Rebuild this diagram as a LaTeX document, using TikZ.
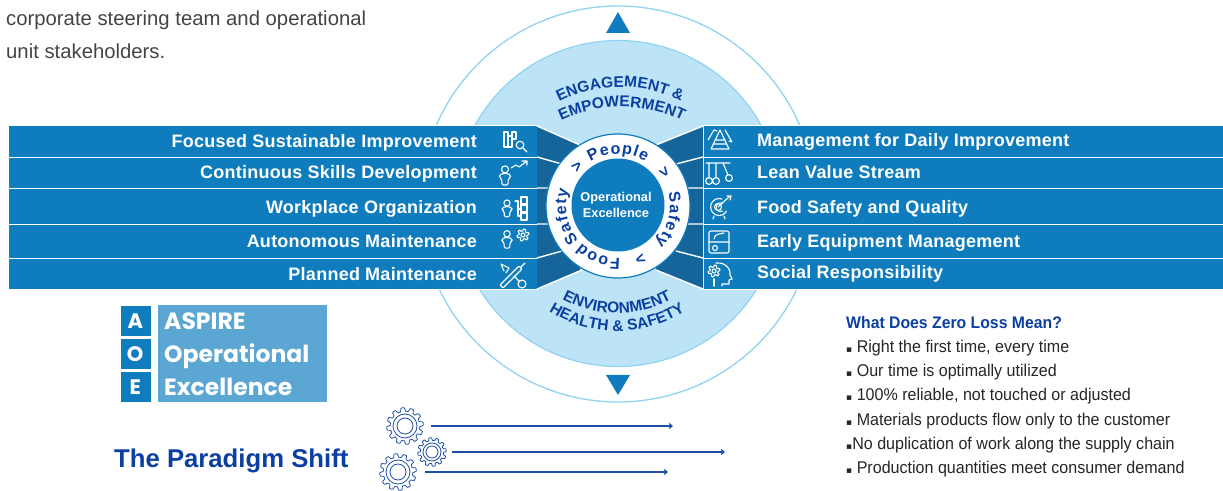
\documentclass[tikz,border=0pt]{standalone}
\usepackage{fontspec}
\usetikzlibrary{decorations.text,arrows.meta}
\setmainfont{Liberation Sans}
\newfontfamily\barfont[LetterSpace=1.4]{Liberation Sans}
\newfontfamily\ringfont{Liberation Sans}
\newfontfamily\capsfont{Liberation Sans}
\newfontfamily\boxfont{Poppins}
\newfontfamily\listfont[FakeStretch=0.945]{Liberation Sans}
\newfontfamily\symbfont{DejaVu Sans}
\definecolor{barblue}{HTML}{0F7DBD}
\definecolor{darkblue}{HTML}{15659A}
\definecolor{skyfill}{HTML}{BDE4F6}
\definecolor{skyline}{HTML}{8FD3F1}
\definecolor{headblue}{HTML}{0B3FA0}
\definecolor{boxblue}{HTML}{5BA6D3}
\definecolor{gearblue}{HTML}{1F4FA5}
\definecolor{greytext}{HTML}{444444}
\newcommand\rk{\hspace{1.1pt}}
\tikzset{
  bar/.style={draw=white,line width=1.4pt,fill=barblue,inner sep=0pt},
  barlabel/.style={text=white,font=\barfont\bfseries\fontsize{18}{20}\selectfont,inner sep=0pt},
  iconline/.style={draw=white,line width=1.1pt,line cap=round,line join=round},
  ringword/.style={decorate,decoration={text along path,text align=center,text color=headblue,
      text={|\ringfont\bfseries\fontsize{16}{16}\selectfont|#1}}},
  capsword/.style={decorate,decoration={text along path,text align=center,text color=headblue,
      text={|\capsfont\bfseries\fontsize{15.5}{16}\selectfont|#1}}},
  letterbox/.style={draw=white,line width=0.5pt,fill=barblue,text=white,minimum size=31pt,inner sep=0pt,font=\boxfont\bfseries\fontsize{21}{21}\selectfont},
  boxline/.style={text=white,inner sep=0pt,anchor=base west,font=\boxfont\bfseries\fontsize{23.5}{24}\selectfont},
  listline/.style={text=black!85,inner sep=0pt,anchor=base west,font=\listfont\fontsize{17}{18}\selectfont},
  shiftarrow/.style={draw=gearblue,line width=1.1pt,-{Straight Barb[length=3pt,width=5pt]}},
  pics/personmark/.style={code={
    \draw[iconline] (0,4.5) circle[radius=2.8];
    \draw[iconline,rounded corners=1.5pt] (-2.5,-8) -- (-2.5,-3) -- (-4.5,-2) -- (-4.5,0) -- (-2,1.2) -- (2,1.2) -- (4.5,0) -- (4.5,-2) -- (2.5,-3) -- (2.5,-8) -- cycle;
  }},
  pics/cogmark/.style={code={
    \draw[iconline] plot[samples=73,domain=0:360,smooth] (\x:{#1*(1+0.2*tanh(3*sin(6*\x)))});
    \draw[iconline] (0,0) circle[radius=#1*0.4];
  }}
}
\newcommand\gearwheel[6]{
  \draw[gearblue,line width=0.8pt] plot[samples=181,domain=0:360] ([shift={(#1,#2)}]\x:{#3*(0.92+0.1*tanh(3*sin(#6*\x)))});
  \draw[gearblue,line width=0.8pt] (#1,#2) circle[radius=#4] (#1,#2) circle[radius=#5];
}
\begin{document}
\begin{tikzpicture}[x=1pt,y=1pt]
\useasboundingbox (0,0) rectangle (1223,490);
\node[text=greytext,inner sep=0pt,anchor=base west,font=\fontsize{20.3}{21}\selectfont] (introa) at (6,464) {corporate steering team and operational};
\node[text=greytext,inner sep=0pt,anchor=base west,font=\fontsize{20.3}{21}\selectfont] (introb) at (6,431) {unit stakeholders.};
% rings behind the bars
\draw[skyline,line width=1.3pt] (618,286) circle[radius=198];
\draw[skyline,line width=1.2pt,fill=skyfill] (618,286.5) circle[radius=163];
\fill[barblue] (606,457) -- (618,478) -- (630,457) -- cycle;
\fill[barblue] (606,115) -- (618,95) -- (630,115) -- cycle;
\path[capsword={ENGAGEMENT {\&}}] ([shift={(620,270)}]125:133) arc[start angle=125,end angle=55,radius=133];
\path[capsword={EMPOWERMENT}] ([shift={(622,243)}]125:140) arc[start angle=125,end angle=55,radius=140];
\path[capsword={ENVIRONMENT}] ([shift={(617,291)}]-140:114) arc[start angle=-140,end angle=-40,radius=114];
\path[capsword={HEALTH {\&} SAFETY}] ([shift={(617,286)}]-130:127) arc[start angle=-130,end angle=-50,radius=127];
% bars
\foreach \i/\ttop/\hgt/\lbase/\rbase/\ltxt/\rtxt in {1/365/32/342/343/Focused Sustainable Improvement/Management for Daily Improvement,
    2/333/31/311/311/Continuous Skills Development/Lean Value Stream,
    3/302/36/276/276/Workplace Organization/Food Safety and Quality,
    4/266/34/242/242/Autonomous Maintenance/Early Equipment Management,
    5/232/31/209/211/Planned Maintenance/Social Responsibility} {
  \node[bar,anchor=north west,minimum width=529pt,minimum height=\hgt pt] (lbar\i) at (8,\ttop) {};
  \node[bar,anchor=north west,minimum width=525pt,minimum height=\hgt pt] (rbar\i) at (703,\ttop) {};
  \node[barlabel,anchor=base east] (llabel\i) at (477,\lbase) {\ltxt};
  \node[barlabel,anchor=base west] (rlabel\i) at (757,\rbase) {\rtxt};
}
% wedges beside the ring
\fill[darkblue] (537,364) -- (580,345) -- (580,220) -- (537,201) -- cycle;
\fill[darkblue] (703,364) -- (656,345) -- (656,220) -- (703,201) -- cycle;
\draw[white,line width=1.4pt] (537,364) -- (580,345) (537,201) -- (582,220) (703,364) -- (656,345) (703,201) -- (656,220);
\draw[white,line width=1.4pt] (537,333) -- (562,326) (537,302) -- (555,302) (537,266) -- (555,266) (537,232) -- (562,239);
\draw[white,line width=1.4pt] (703,333) -- (676,326) (703,302) -- (685,302) (703,266) -- (685,266) (703,232) -- (676,239);
% ring
\draw[barblue,line width=1.2pt,fill=white] (618,284) circle[radius=72];
\fill[barblue] (618,285) circle[radius=46.5];
\node[text=white,align=center,inner sep=0pt,font=\capsfont\bfseries\fontsize{12.8}{15.5}\selectfont] (core) at (616,285) {Operational\\Excellence};
\path[ringword={P{\rk}e{\rk}o{\rk}p{\rk}l{\rk}e}] ([shift={(618,284)}]140:52) arc[start angle=140,end angle=40,radius=52];
\path[ringword={S{\rk}a{\rk}f{\rk}e{\rk}t{\rk}y}] ([shift={(618,284)}]40:52) arc[start angle=40,end angle=-70,radius=52];
\path[ringword={F{\rk}o{\rk}o{\rk}d S{\rk}a{\rk}f{\rk}e{\rk}t{\rk}y}] ([shift={(618,284)}]-70:52) arc[start angle=-70,end angle=-216,radius=52];
\foreach \a in {136,36,-67} {
  \path[ringword={>}] ([shift={(618,284)}]\a+12:52) arc[start angle=\a+12,end angle=\a-12,radius=52];
}
% left icons
\begin{scope}[shift={(515,348)}]
  \draw[iconline] (-11,10) rectangle (-7,-5) (-7,6) rectangle (-3,-5) (-3,10) rectangle (1,3);
  \draw[iconline] (5,-3) circle[radius=3.8] (8,-6) -- (12,-10);
\end{scope}
\pic[scale=1.25] at (505,315) {personmark};
\draw[iconline] (511,322) -- (516,325) -- (519,323) -- (527,329) (522,329) -- (527,329) -- (527,325);
\pic[scale=1.1] at (507,282) {personmark};
\draw[iconline] (521,293) rectangle (527,286) (521,285) rectangle (527,278) (521,277) rectangle (527,270);
\draw[iconline] (515,289) -- (518,289) -- (518,274) -- (521,274) (518,281) -- (521,281);
\pic[scale=1.15] at (507,251) {personmark};
\pic at (523,255) {cogmark=5};
\begin{scope}[shift={(513,215)}]
  \draw[iconline,rounded corners=1pt] (-10,-13) -- (-13,-10) -- (6,9) -- (9,6) -- cycle;
  \draw[iconline] (8,8) -- (12,12);
  \draw[iconline] (-12,11) -- (-4,7) -- (-7,2) (-12,11) -- (-9,4);
  \draw[iconline] (1,-1) -- (7,-7);
  \draw[iconline] (9,-9) circle[radius=4];
\end{scope}
% right icons
\begin{scope}[shift={(720,350)}]
  \draw[iconline] (0,10) -- (-9,-9) -- (9,-9) -- cycle (-5,0) -- (5,0) (-7,-4) -- (7,-4);
  \draw[iconline] (-6,10) -- (-12,0) (-6,10) -- (-3,9);
  \draw[iconline] (5,10) -- (12,-2) (12,-2) -- (9,-1);
\end{scope}
\begin{scope}[shift={(719,317)}]
  \draw[iconline] (-13,10) -- (11,10) (-10,10) -- (-10,-5) (-3,10) -- (-3,-5) (4,10) -- (9,-2);
  \draw[iconline] (-10,-8) circle[radius=3.4] (-3,-8) circle[radius=3.4] (10,-5) circle[radius=3.4];
\end{scope}
\begin{scope}[shift={(719,283)}]
  \draw[iconline] (-1,0) circle[radius=3.5];
  \draw[iconline] (3,8) arc[start angle=70,end angle=330,radius=8.5];
  \draw[iconline] (3,4) arc[start angle=70,end angle=300,radius=4.5];
  \draw[iconline] (-1,0) -- (10,10) (8,11) -- (12,11) -- (11,7);
  \draw[iconline] (-5,-9) -- (-6,-12) (5,-9) -- (6,-12);
\end{scope}
\begin{scope}[shift={(719,248)}]
  \draw[iconline,rounded corners=2pt] (-10,11) rectangle (10,-11);
  \draw[iconline] (-10,0) -- (10,0) (-4,-6) circle[radius=2.5];
  \draw[iconline] (-5,3) arc[start angle=180,end angle=90,radius=5] (0,8) -- (5,9);
\end{scope}
\begin{scope}[shift={(720,215)}]
  \pic at (-6,4) {cogmark=5};
  \draw[iconline] (-6,-4) -- (-6,-11);
  \draw[iconline] (-4,12) .. controls (8,13) and (11,3) .. (10,0) -- (12,-4) -- (9,-5) -- (9,-9) -- (2,-9) -- (2,-11);
\end{scope}
% logo
\foreach \i/\ttop/\ch in {1/185/A,2/152/O,3/119/E} {
  \node[letterbox,anchor=north west] (letter\i) at (119.5,\ttop) {\ch};
}
\node[fill=boxblue,anchor=north west,minimum width=169pt,minimum height=97pt,inner sep=0pt] (logobox) at (158,185) {};
\node[boxline] (logoa) at (164,160) {ASPIRE};
\node[boxline] (logob) at (164,127) {Operational};
\node[boxline] (logoc) at (164,95) {Excellence};
\node[text=headblue,inner sep=0pt,anchor=base west,font=\bfseries\fontsize{25.7}{28}\selectfont] (shift) at (114,23) {The Paradigm Shift};
% gears
\gearwheel{405}{64}{18}{12}{8}{12}
\gearwheel{432}{38}{14}{9}{6}{12}
\gearwheel{398}{18}{18}{12}{8}{12}
\foreach \i/\sx/\ex/\y in {1/431/673/64,2/452/725/38,3/425/668/18} {
  \coordinate (shiftstart\i) at (\sx,\y);
  \coordinate (shiftend\i) at (\ex,\y);
  \draw[shiftarrow] (shiftstart\i) -- (shiftend\i);
}
% list
\node[text=headblue,inner sep=0pt,anchor=base west,font=\listfont\bfseries\fontsize{16.7}{18}\selectfont] (listhead) at (846,161) {What Does Zero Loss Mean?};
\foreach \i/\y/\txt in {1/137/{\symbfont\small ▪} Right the first time{,} every time,
    2/113/{\symbfont\small ▪} Our time is optimally utilized,
    3/89/{\symbfont\small ▪} 100\% reliable{,} not touched or adjusted,
    4/65/{\symbfont\small ▪} Materials products flow only to the customer,
    5/41/{\symbfont\small ▪}No duplication of work along the supply chain,
    6/17/{\symbfont\small ▪} Production quantities meet consumer demand} {
  \node[listline] (item\i) at (846,\y) {\txt};
}
\end{tikzpicture}
\end{document}
